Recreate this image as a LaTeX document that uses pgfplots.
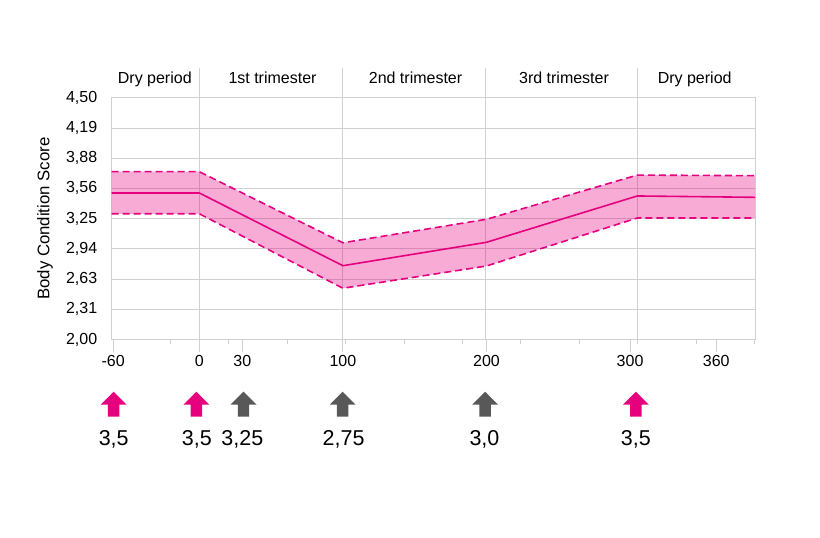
\documentclass[border=0pt]{standalone}
\usepackage{pgfplots}
\pgfplotsset{compat=1.18}
\usepackage{fontspec}
\setmainfont{Liberation Sans}
\definecolor{tmag}{RGB}{230,0,126}
\definecolor{agray}{RGB}{88,88,88}
\definecolor{gridc}{RGB}{208,208,208}
\pgfdeclareplotmark{bcsarrow}{%
 \pgfpathmoveto{\pgfqpoint{0pt}{0.96\pgfplotmarksize}}%
 \pgfpathlineto{\pgfqpoint{\pgfplotmarksize}{-0.04\pgfplotmarksize}}%
 \pgfpathlineto{\pgfqpoint{0.44\pgfplotmarksize}{-0.04\pgfplotmarksize}}%
 \pgfpathlineto{\pgfqpoint{0.44\pgfplotmarksize}{-0.96\pgfplotmarksize}}%
 \pgfpathlineto{\pgfqpoint{-0.44\pgfplotmarksize}{-0.96\pgfplotmarksize}}%
 \pgfpathlineto{\pgfqpoint{-0.44\pgfplotmarksize}{-0.04\pgfplotmarksize}}%
 \pgfpathlineto{\pgfqpoint{-\pgfplotmarksize}{-0.04\pgfplotmarksize}}%
 \pgfpathclose
 \pgfusepathqfill}
\begin{document}
\begin{tikzpicture}
\useasboundingbox (-111.7bp,-198.5bp) rectangle (708.3bp,339.5bp);
\begin{axis}[
 at={(0,0)}, anchor=south west,
 scale only axis, width=643.3bp, height=241.8bp,
 xmin=-61, xmax=387, ymin=2, ymax=4.5,
 clip=false,
 axis line style={draw=gridc, line width=0.8bp},
 xtick={-60,0,30,100,200,300,360},
 xticklabels={-60,0,30,100,200,300,360},
 minor xtick={-20.3,20.4,61.1,101.8,142.5,183.2,223.9,264.6,305.3,346,386.7},
 xtick pos=left,
 tick align=outside,
 major tick length=12.5bp, minor tick length=4bp,
 xtick style={draw=gridc, line width=0.8bp},
 ytick={2,2.3125,2.625,2.9375,3.25,3.5625,3.875,4.1875,4.5},
 yticklabels={{2,00},{2,31},{2,63},{2,94},{3,25},{3,56},{3,88},{4,19},{4,50}},
 ytick style={draw=none},
 ymajorgrids, major grid style={draw=gridc, line width=0.8bp},
 tick label style={font=\fontsize{16bp}{19bp}\selectfont, text=black},
 yticklabel style={xshift=1.5bp},
 ylabel={Body Condition Score},
 every axis y label/.style={at={(axis description cs:0,0.5)}, xshift=-66.7bp, rotate=90, anchor=center, font=\fontsize{16.8bp}{19bp}\selectfont},
]
% phase separators
\addplot[gridc, line width=0.8bp] coordinates {(0,2) (0,4.808)};
\addplot[gridc, line width=0.8bp] coordinates {(100,2) (100,4.808)};
\addplot[gridc, line width=0.8bp] coordinates {(199,2) (199,4.808)};
\addplot[gridc, line width=0.8bp] coordinates {(305,2) (305,4.808)};
% band
\addplot[draw=none, fill=tmag, fill opacity=0.33] coordinates {
 (-61,3.735) (0,3.735) (100,3.00) (200,3.243) (305,3.70) (387,3.694)
 (387,3.256) (305,3.256) (200,2.76) (100,2.53) (0,3.30) (-61,3.30)} -- cycle;
\addplot[tmag, line width=1.6bp, dash pattern=on 7bp off 4bp] coordinates {
 (-61,3.735) (0,3.735) (100,3.00) (200,3.243) (305,3.70) (387,3.694)};
\addplot[tmag, line width=1.6bp, dash pattern=on 7bp off 4bp] coordinates {
 (-61,3.30) (0,3.30) (100,2.53) (200,2.76) (305,3.256) (387,3.256)};
\addplot[tmag, line width=1.6bp] coordinates {
 (-61,3.515) (0,3.515) (100,2.763) (200,3.005) (305,3.484) (387,3.47)};
% phase labels
\addplot[draw=none, mark=none, nodes near coords, point meta=explicit symbolic,
 every node near coord/.append style={anchor=base, text=black, inner sep=0pt, font=\fontsize{16bp}{19bp}\selectfont}]
 coordinates {(-31,4.649)[Dry period] (51,4.649)[1st trimester] (150.6,4.649)[2nd trimester] (254,4.649)[3rd trimester] (345,4.649)[Dry period]};
% arrows
\addplot[only marks, mark=bcsarrow, mark size=13bp, color=tmag, mark options={fill=tmag, draw=none}]
 coordinates {(-59.7,1.331) (-2,1.331) (304,1.331)};
\addplot[only marks, mark=bcsarrow, mark size=13bp, color=agray, mark options={fill=agray, draw=none}]
 coordinates {(30.8,1.331) (99.8,1.331) (199,1.331)};
% values
\addplot[draw=none, mark=none, nodes near coords, point meta=explicit symbolic,
 every node near coord/.append style={anchor=base, text=black, inner sep=0pt, font=\fontsize{21.5bp}{25bp}\selectfont}]
 coordinates {(-59.6,0.902)[{3,5}] (-1.7,0.902)[{3,5}] (30,0.902)[{3,25}] (100.5,0.902)[{2,75}] (198.6,0.902)[{3,0}] (304,0.902)[{3,5}]};
\end{axis}
\end{tikzpicture}
\end{document}
